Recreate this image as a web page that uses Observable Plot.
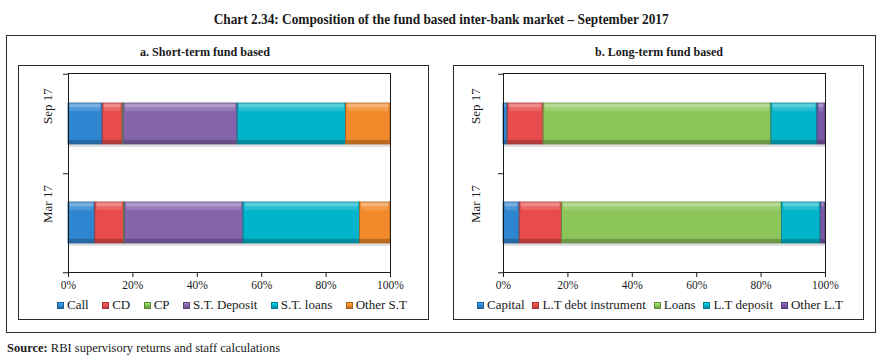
<!DOCTYPE html>
<html><head><meta charset="utf-8">
<script src="https://cdn.jsdelivr.net/npm/d3@7"></script>
<script src="https://cdn.jsdelivr.net/npm/@observablehq/plot@0.6"></script>
<style>
body{margin:0;background:#fff;}
#root{position:relative;width:882px;height:360px;overflow:hidden;font-family:"Liberation Serif",serif;color:#1a1a1a;}
.outer{position:absolute;left:6px;top:35px;width:870px;height:298px;border:1.5px solid #2a2a2a;box-sizing:border-box;}
.panel{position:absolute;top:65px;width:411px;height:255px;border:1.2px solid #2a2a2a;box-sizing:border-box;}
.plot{position:absolute;top:65px;}
.title{position:absolute;left:0;width:882px;top:11px;text-align:center;font-weight:bold;font-size:14px;line-height:18px;}
.ptitle{position:absolute;top:44px;font-weight:bold;font-size:12.5px;line-height:17px;white-space:nowrap;}
.fit{display:inline-block;white-space:nowrap;}
.legend{position:absolute;top:297px;height:16px;display:flex;justify-content:space-between;align-items:center;font-family:"Liberation Serif",serif;font-size:13px;line-height:16px;white-space:nowrap;}
.legend .item{display:flex;align-items:center;}
.legend .sw{width:7px;height:7px;margin-right:3px;box-sizing:border-box;}
.source{position:absolute;left:7px;top:340px;font-size:12px;line-height:16px;white-space:nowrap;transform-origin:left center;}
</style>
</head><body>
<div id="root">
  <div class="title"><span class="fit" id="t0">Chart 2.34: Composition of the fund based inter-bank market – September 2017</span></div>
  <div class="outer"></div>
  <div class="panel" style="left:18px"></div>
  <div class="panel" style="left:453px"></div>
  <div class="ptitle" id="pa" style="left:140px">a. Short-term fund based</div>
  <div class="ptitle" id="pb" style="left:595px">b. Long-term fund based</div>
  <div class="plot" id="chartA" style="left:18px"></div>
  <div class="plot" id="chartB" style="left:454px"></div>
  <div class="legend" id="legA" style="left:57px;width:350px"></div>
  <div class="legend" id="legB" style="left:477px;width:366px"></div>
  <div class="source" id="src"><b>Source:</b> RBI supervisory returns and staff calculations</div>
</div>
<script>
// ---- data ----
const periods = ["Sep 17", "Mar 17"];

const stSeries = ["Call", "CD", "CP", "S.T. Deposit", "S.T. loans", "Other S.T"];
const stSep = [10.6, 6.2, 0.3, 35.4, 33.7, 13.8];
const stMar = [8.3, 8.9, 0.3, 36.8, 36.2, 9.5];
const stColors = ["#2E86D1", "#E84B4B", "#7CC14F", "#8465AC", "#00B4CB", "#F28A2B"];

const ltSeries = ["Capital", "L.T debt instrument", "Loans", "L.T deposit", "Other L.T"];
const ltSep = [1.3, 11.1, 70.8, 14.3, 2.5];
const ltMar = [5.0, 13.1, 68.4, 12.0, 1.5];
const ltColors = ["#2E86D1", "#E84B4B", "#8CC65A", "#00B4CB", "#7A58A8"];

const xTicks = [0, 20, 40, 60, 80, 100];

const W = 410, H = 232, MT = 8, MB = 25;
const PAD_IN = 0.59, PAD_OUT = 0.295;

function makePanel(series, sepVals, marVals, colors, ml, mr, labelDx) {
  const rows = [];
  periods.forEach((p, pi) => {
    const vals = pi === 0 ? sepVals : marVals;
    series.forEach((s, i) => rows.push({period: p, series: s, value: vals[i], idx: i}));
  });
  const step = (H - MT - MB) / periods.length;
  const bw = step * (1 - PAD_IN);
  const base = {x: "value", y: "period"};
  return Plot.plot({
    width: W, height: H,
    marginTop: MT, marginBottom: MB, marginLeft: ml, marginRight: mr,
    style: {fontFamily: "'Liberation Serif', serif", fontSize: "11px", color: "#1a1a1a", background: "transparent", overflow: "visible"},
    x: {domain: [0, 100], axis: null},
    y: {domain: periods, paddingInner: PAD_IN, paddingOuter: PAD_OUT, axis: null},
    color: {type: "identity"},
    marks: [
      // soft drop shadow
      Plot.barX(rows, Plot.stackX({...base, fill: "#666", fillOpacity: 0.2, dy: 3, dx: 1})),
      // main segments
      Plot.barX(rows, Plot.stackX({...base, fill: d => colors[d.idx]})),
      // top highlight (bevel)
      Plot.barX(rows, Plot.stackX({...base, fill: "#fff", fillOpacity: 0.35, insetBottom: bw - 4, insetLeft: 1.5, insetRight: 1.5})),
      Plot.barX(rows, Plot.stackX({...base, fill: "#fff", fillOpacity: 0.15, insetTop: 4, insetBottom: bw - 8, insetLeft: 2, insetRight: 2})),
      // bottom shade (bevel)
      Plot.barX(rows, Plot.stackX({...base, fill: "#000", fillOpacity: 0.22, insetTop: bw - 4})),
      // segment outlines
      Plot.barX(rows, Plot.stackX({...base, fill: "none", stroke: d => d3.color(colors[d.idx]).darker(0.9).formatHex(), strokeWidth: 0.8})),
      Plot.frame({stroke: "#1a1a1a", strokeWidth: 1}),
      Plot.ruleY([periods[0]], {y: d => d, x1: 0, x2: 0, insetLeft: -5, dy: -step / 2, stroke: "#1a1a1a"}),
      Plot.ruleY(periods, {y: d => d, x1: 0, x2: 0, insetLeft: -5, dy: step / 2, stroke: "#1a1a1a"}),
      Plot.axisX({ticks: xTicks, tickFormat: d => d + "%", tickSize: 5, tickPadding: 3, fontSize: 11.5, stroke: "#1a1a1a", label: null}),
      Plot.text(periods, {y: d => d, text: d => d, frameAnchor: "left", rotate: -90, dx: labelDx, lineAnchor: "bottom", fontSize: 13, fill: "#1a1a1a"})
    ]
  });
}

document.getElementById("chartA").appendChild(makePanel(stSeries, stSep, stMar, stColors, 50, 38, -17));
document.getElementById("chartB").appendChild(makePanel(ltSeries, ltSep, ltMar, ltColors, 49, 39, -24));

function legend(el, series, colors) {
  series.forEach((s, i) => {
    const c = d3.color(colors[i]);
    const item = document.createElement("div");
    item.className = "item";
    item.innerHTML = `<span class="sw" style="background:linear-gradient(${c.brighter(0.6).formatHex()},${c.formatHex()} 50%,${c.darker(0.6).formatHex()});border:0.5px solid ${c.darker(1).formatHex()}"></span><span>${s}</span>`;
    el.appendChild(item);
  });
}
legend(document.getElementById("legA"), stSeries, stColors);
legend(document.getElementById("legB"), ltSeries, ltColors);

function fitWidth(el, target, origin) {
  const w = el.getBoundingClientRect().width;
  el.style.transformOrigin = origin;
  el.style.transform = `scaleX(${target / w})`;
}
fitWidth(document.getElementById("t0"), 455, "center center");
fitWidth(document.getElementById("pa"), 130, "left center");
fitWidth(document.getElementById("pb"), 128, "left center");
fitWidth(document.getElementById("src"), 273, "left center");
</script>
</body></html>
